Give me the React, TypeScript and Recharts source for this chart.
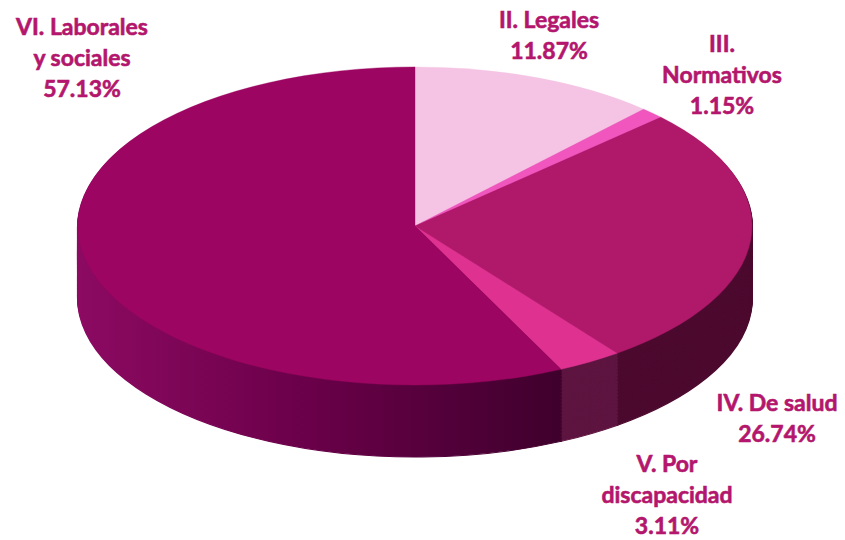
import React from "react";
import { PieChart, Pie, Cell } from "recharts";

const categories = ["II. Legales", "III. Normativos", "IV. De salud", "V. Por discapacidad", "VI. Laborales y sociales"];
const values = [11.87, 1.15, 26.74, 3.11, 57.13];
const labelLines = [
  ["II. Legales", "11.87%"],
  ["III.", "Normativos", "1.15%"],
  ["IV. De salud", "26.74%"],
  ["V. Por", "discapacidad", "3.11%"],
  ["VI. Laborales", "y sociales", "57.13%"],
];

const topColors = ["#f5c4e4", "#f056be", "#b0186a", "#de3190", "#9c0561"];
const sideColors = ["#c98bb4", "#b33d8a", "#4d0a2f", "#5e1540", "url(#sideVI)"];

// squash factor for the tilted look
const K = 0.472;
const W = 845;
const H = 540 / K;
const CX = 415;
const CY = 226 / K;
const R = 337;
const DEPTH = 72 / K;
const LH = 31;
const labelPos = [
  [549, 35],
  [722, 74],
  [777, 418],
  [667, 494],
  [82, 57],
];

const data = categories.map((name, i) => ({ name, value: values[i] }));
const layers = Array.from({ length: Math.ceil(DEPTH / 3) }, (_, i) => DEPTH - i * 3);

const renderLabel = (p: any) => {
  const [lx, ly] = labelPos[p.index];
  const lines = labelLines[p.index];
  const y0 = ly - ((lines.length - 1) * LH) / 2;
  return (
    <text
      transform={`translate(${lx},${y0 / K}) scale(1,${1 / K})`}
      textAnchor="middle"
      dominantBaseline="central"
      fill="#b3166c"
      stroke="#b3166c"
      strokeWidth={0.6}
      fontFamily="Lato, 'Open Sans', sans-serif"
      fontWeight={700}
      fontSize={23}
    >
      {lines.map((t, i) => (
        <tspan key={i} x={0} dy={i === 0 ? 0 : LH}>
          {t}
        </tspan>
      ))}
    </text>
  );
};

export default function App() {
  return (
    <div style={{ position: "absolute", left: 0, top: 0, width: 845, height: 540, overflow: "hidden", background: "#fff" }}>
      <div style={{ transform: `scaleY(${K})`, transformOrigin: "0 0" }}>
        <PieChart width={W} height={H} margin={{ top: 0, right: 0, bottom: 0, left: 0 }}>
          <defs>
            <linearGradient id="sideVI" gradientUnits="userSpaceOnUse" x1={78} y1={0} x2={590} y2={0}>
              <stop offset="0%" stopColor="#8c0a62" />
              <stop offset="45%" stopColor="#6a0049" />
              <stop offset="100%" stopColor="#3a0029" />
            </linearGradient>
          </defs>
          {layers.map((d) => (
            <Pie
              key={d}
              data={data}
              dataKey="value"
              cx={CX}
              cy={CY + d}
              outerRadius={R}
              startAngle={90}
              endAngle={-270}
              isAnimationActive={false}
              labelLine={false}
            >
              {data.map((_, i) => (
                <Cell key={i} fill={sideColors[i]} stroke={sideColors[i]} strokeWidth={2} />
              ))}
            </Pie>
          ))}
          <Pie
            data={data}
            dataKey="value"
            cx={CX}
            cy={CY}
            outerRadius={R}
            startAngle={90}
            endAngle={-270}
            isAnimationActive={false}
            labelLine={false}
            label={renderLabel}
          >
            {data.map((_, i) => (
              <Cell key={i} fill={topColors[i]} stroke={topColors[i]} strokeWidth={0.5} />
            ))}
          </Pie>
        </PieChart>
      </div>
    </div>
  );
}
